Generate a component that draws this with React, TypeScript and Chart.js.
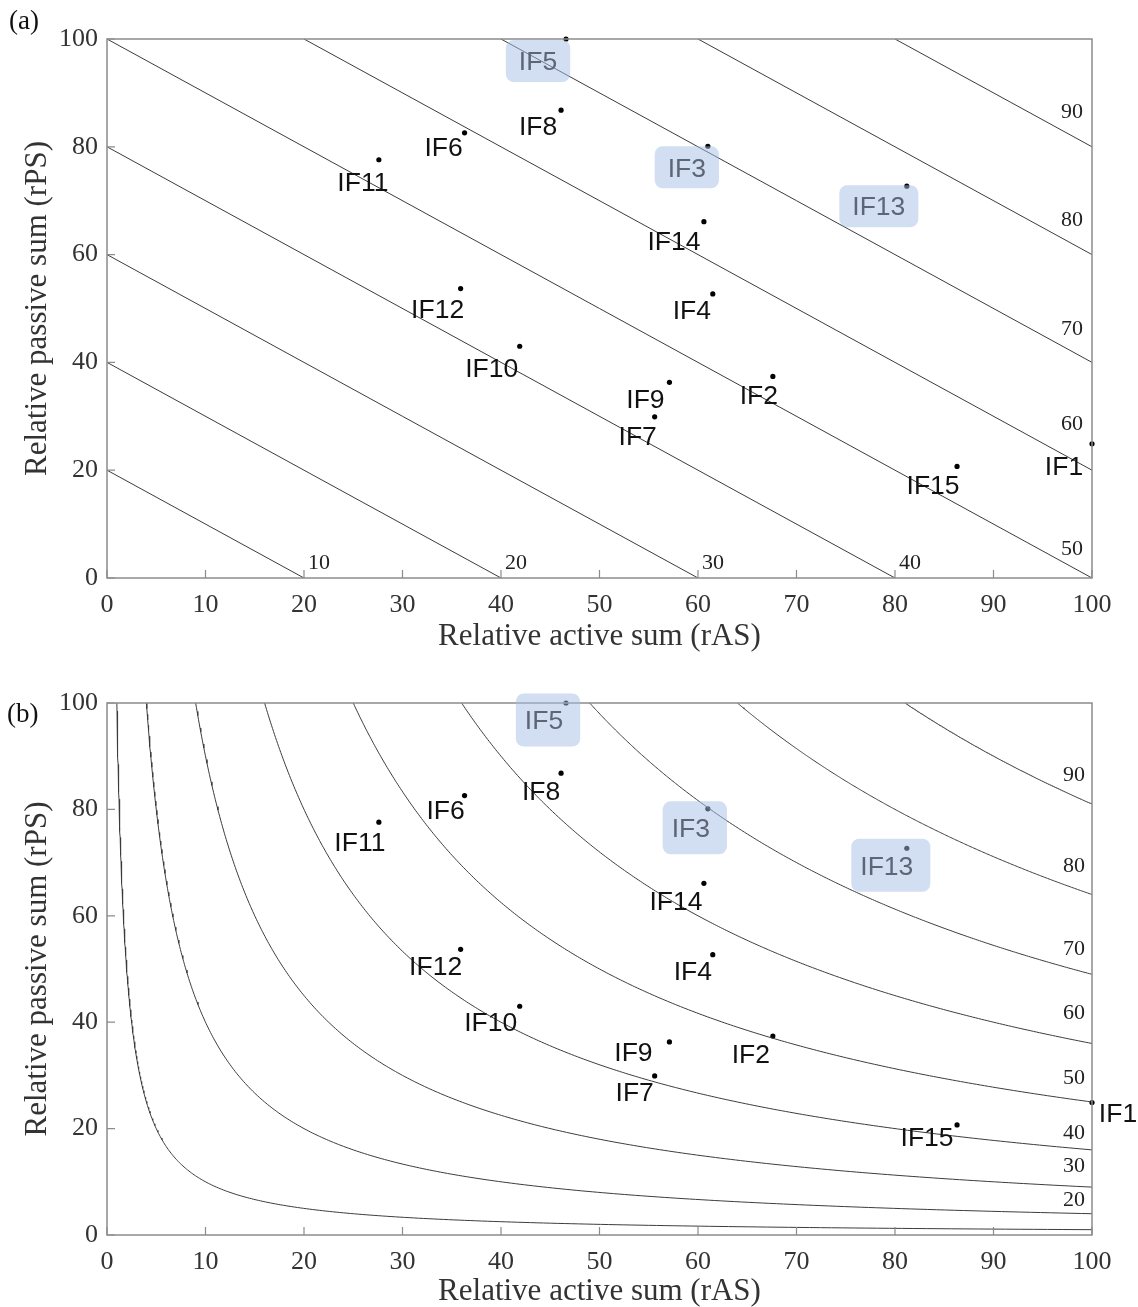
import React, { useEffect, useRef } from "react";
import { Chart, registerables } from "chart.js";

Chart.register(...registerables);

// ---------- data ----------
const pointNames = ["IF1", "IF2", "IF3", "IF4", "IF5", "IF6", "IF7", "IF8", "IF9", "IF10", "IF11", "IF12", "IF13", "IF14", "IF15"];
const rAS = [100, 67.6, 61.0, 61.5, 46.6, 36.3, 55.6, 46.1, 57.1, 41.9, 27.6, 35.9, 81.2, 60.6, 86.3];
const rPS = [24.9, 37.4, 80.1, 52.7, 100, 82.6, 29.9, 86.8, 36.3, 43.0, 77.6, 53.7, 72.7, 66.1, 20.7];
const highlighted = ["IF3", "IF5", "IF13"];
const xTicks = [0, 10, 20, 30, 40, 50, 60, 70, 80, 90, 100];
const yTicks = [0, 20, 40, 60, 80, 100];
const isoLevels = [10, 20, 30, 40, 50, 60, 70, 80, 90];
const isoLabelsB = [20, 30, 40, 50, 60, 70, 80, 90];

// ---------- style constants (pixel offsets of labels) ----------
const labelOffsetA: Record<string, [number, number]> = {
  IF1: [-28, 23], IF2: [-14, 19], IF3: [-21, 22], IF4: [-21, 17], IF5: [-28, 23],
  IF6: [-21, 15], IF7: [-17, 20], IF8: [-23, 17], IF9: [-24, 17], IF10: [-28, 22],
  IF11: [-16, 23], IF12: [-23, 21], IF13: [-28, 21], IF14: [-30, 20], IF15: [-24, 19],
};
const labelOffsetB: Record<string, [number, number]> = {
  IF1: [26, 11], IF2: [-22, 19], IF3: [-17, 20], IF4: [-20, 17], IF5: [-22, 18],
  IF6: [-19, 15], IF7: [-20, 17], IF8: [-20, 18], IF9: [-36, 11], IF10: [-29, 16],
  IF11: [-19, 21], IF12: [-25, 17], IF13: [-20, 18], IF14: [-28, 18], IF15: [-30, 13],
};
const isoLabelDyA: Record<number, number> = { 50: -29, 60: -46, 70: -33, 80: -34, 90: -35 };
const isoLabelDyB: Record<number, number> = { 20: -14, 30: -21, 40: -17, 50: -24, 60: -30, 70: -25, 80: -28, 90: -29 };

const SERIF = '"Liberation Serif", "Times New Roman", serif';
const SANS = '"Liberation Sans", Arial, sans-serif';
const W = 1138;
const LEFT_PAD = 16;

type Panel = "a" | "b";

function isoData(panel: Panel, L: number) {
  if (panel === "a") {
    const s = 2 * L;
    if (s <= 100) return [{ x: 0, y: s }, { x: s, y: 0 }];
    return [{ x: s - 100, y: 100 }, { x: 100, y: s - 100 }];
  }
  const c = L * L;
  const x0 = c / 100;
  const pts: { x: number; y: number }[] = [];
  const N = 300;
  for (let i = 0; i <= N; i++) {
    const x = x0 * Math.pow(100 / x0, i / N);
    pts.push({ x, y: c / x });
  }
  return pts;
}

function overlay(panel: Panel) {
  return {
    id: "overlay_" + panel,
    afterDatasetsDraw(chart: any) {
      const { ctx, chartArea: ca, scales } = chart;
      const xs = scales.x;
      const ys = scales.y;
      ctx.save();
      // frame
      ctx.strokeStyle = "#8c8c8c";
      ctx.lineWidth = 1.5;
      ctx.strokeRect(ca.left, ca.top, ca.right - ca.left, ca.bottom - ca.top);
      // inward ticks
      ctx.lineWidth = 1.2;
      ctx.beginPath();
      xTicks.forEach((t) => {
        const px = xs.getPixelForValue(t);
        ctx.moveTo(px, ca.bottom);
        ctx.lineTo(px, ca.bottom - 8);
      });
      yTicks.forEach((t) => {
        const py = ys.getPixelForValue(t);
        ctx.moveTo(ca.left, py);
        ctx.lineTo(ca.left + 8, py);
      });
      ctx.stroke();

      // isoline labels
      ctx.fillStyle = "#222";
      ctx.font = `22px ${SERIF}`;
      ctx.textAlign = "center";
      ctx.textBaseline = "middle";
      if (panel === "a") {
        isoLevels.forEach((L) => {
          const s = 2 * L;
          if (s < 100) {
            const px = xs.getPixelForValue(s);
            ctx.fillText(String(L), px + 15, ca.bottom - 15);
          } else {
            const py = ys.getPixelForValue(s - 100);
            ctx.fillText(String(L), ca.right - 20, py + (isoLabelDyA[L] ?? -34));
          }
        });
      } else {
        isoLabelsB.forEach((L) => {
          const py = ys.getPixelForValue((L * L) / 100);
          ctx.fillText(String(L), ca.right - 18, py + (isoLabelDyB[L] ?? -25));
        });
      }

      // point labels
      const offs = panel === "a" ? labelOffsetA : labelOffsetB;
      ctx.font = `26.5px ${SANS}`;
      pointNames.forEach((name, i) => {
        const px = xs.getPixelForValue(rAS[i]);
        const py = ys.getPixelForValue(rPS[i]);
        const [dx, dy] = offs[name];
        const cx = px + dx;
        const cy = py + dy;
        if (highlighted.includes(name)) {
          const tw = ctx.measureText(name).width;
          const bw = tw + 26;
          const bh = panel === "a" ? 42 : 53;
          const bx = cx - bw / 2 + (panel === "a" ? 0 : 4);
          const by = cy - bh / 2 - 1;
          ctx.fillStyle = "rgba(165, 190, 228, 0.5)";
          ctx.beginPath();
          if (ctx.roundRect) ctx.roundRect(bx, by, bw, bh, 8);
          else ctx.rect(bx, by, bw, bh);
          ctx.fill();
          ctx.fillStyle = "#5d6676";
        } else {
          ctx.fillStyle = "#111";
        }
        ctx.fillText(name, cx, cy + 1);
      });

      // panel letter
      ctx.fillStyle = "#111";
      ctx.font = `27px ${SERIF}`;
      ctx.textAlign = "left";
      if (panel === "a") ctx.fillText("(a)", 9, 22);
      else ctx.fillText("(b)", 7, 715 - 655);
      ctx.restore();
    },
  };
}

function makeConfig(panel: Panel, height: number) {
  const top = panel === "a" ? 39 : 48;
  const bottomAxis = panel === "a" ? 578 : 580;
  const datasets: any[] = isoLevels.map((L) => ({
    type: "line",
    label: "iso" + L,
    data: isoData(panel, L),
    borderColor: "#3c3c3c",
    borderWidth: 1,
    pointRadius: 0,
    fill: false,
    tension: 0,
  }));
  datasets.push({
    type: "scatter",
    label: "IF",
    data: pointNames.map((_, i) => ({ x: rAS[i], y: rPS[i] })),
    backgroundColor: "#000",
    borderColor: "#000",
    pointRadius: 2.6,
    borderWidth: 0,
    clip: false,
  });
  return {
    type: "scatter",
    data: { datasets },
    options: {
      animation: false,
      responsive: false,
      maintainAspectRatio: false,
      layout: { padding: { top, right: 46, left: LEFT_PAD, bottom: 0 } },
      plugins: { legend: { display: false }, tooltip: { enabled: false } },
      scales: {
        x: {
          type: "linear",
          min: 0,
          max: 100,
          grid: { display: false },
          border: { display: false },
          ticks: { stepSize: 10, color: "#333", padding: 4, font: { family: SERIF, size: 26 }, maxRotation: 0 },
          title: {
            display: true,
            text: "Relative active sum (rAS)",
            color: "#333",
            font: { family: SERIF, size: 31, lineHeight: 1 },
            padding: { top: 0, bottom: panel === "a" ? 2.5 : 0 },
          },
          afterFit(scale: any) {
            scale.height = height - bottomAxis;
          },
        },
        y: {
          type: "linear",
          min: 0,
          max: 100,
          grid: { display: false },
          border: { display: false },
          ticks: { stepSize: 20, color: "#333", padding: 1, font: { family: SERIF, size: 26 } },
          title: {
            display: true,
            text: "Relative passive sum (rPS)",
            color: "#333",
            font: { family: SERIF, size: 31, lineHeight: 1 },
            padding: { top: 6, bottom: 0 },
          },
          afterFit(scale: any) {
            scale.width = 107 - LEFT_PAD;
          },
        },
      },
    },
    plugins: [overlay(panel)],
  };
}

function ChartPanel({ panel, height, top }: { panel: Panel; height: number; top: number }) {
  const ref = useRef<HTMLCanvasElement | null>(null);
  useEffect(() => {
    if (!ref.current) return;
    const chart = new Chart(ref.current, makeConfig(panel, height) as any);
    return () => chart.destroy();
  }, [panel, height]);
  return (
    <canvas
      ref={ref}
      width={W}
      height={height}
      style={{ position: "absolute", left: 0, top, width: W, height }}
    />
  );
}

export default function App() {
  return (
    <div style={{ position: "absolute", left: 0, top: 0, width: W, height: 1307, background: "#fff" }}>
      <ChartPanel panel="a" height={655} top={0} />
      <ChartPanel panel="b" height={652} top={655} />
    </div>
  );
}
